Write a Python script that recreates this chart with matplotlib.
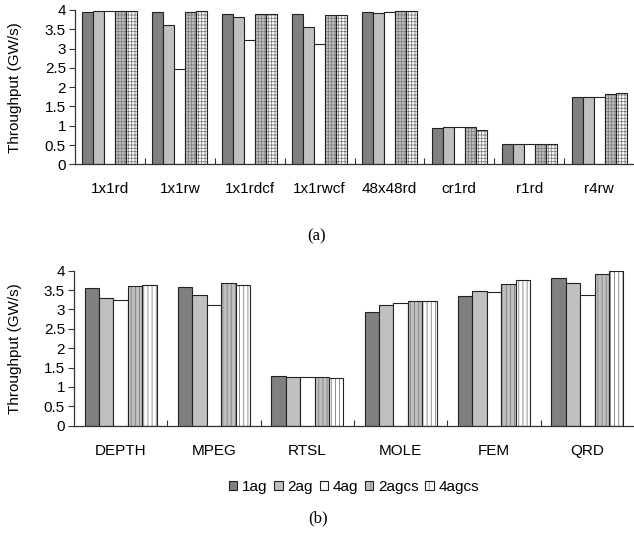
import matplotlib
matplotlib.use("Agg")
import matplotlib.pyplot as plt
import numpy as np
from matplotlib.patches import Patch

plt.rcParams['font.family'] = ['Liberation Sans', 'DejaVu Sans']
plt.rcParams['hatch.linewidth'] = 0.6

series = ['1ag', '2ag', '4ag', '2agcs', '4agcs']

cats_a = ['1x1rd', '1x1rw', '1x1rdcf', '1x1rwcf', '48x48rd', 'cr1rd', 'r1rd', 'r4rw']
vals_a = {
    '1ag':   [3.94, 3.94, 3.89, 3.89, 3.94, 0.93, 0.52, 1.75],
    '2ag':   [3.97, 3.61, 3.83, 3.55, 3.91, 0.96, 0.52, 1.75],
    '4ag':   [3.97, 2.47, 3.23, 3.11, 3.96, 0.96, 0.52, 1.74],
    '2agcs': [3.98, 3.94, 3.89, 3.87, 3.97, 0.96, 0.52, 1.81],
    '4agcs': [3.98, 3.97, 3.89, 3.87, 3.97, 0.89, 0.52, 1.86],
}

cats_b = ['DEPTH', 'MPEG', 'RTSL', 'MOLE', 'FEM', 'QRD']
vals_b = {
    '1ag':   [3.56, 3.59, 1.28, 2.93, 3.36, 3.82],
    '2ag':   [3.30, 3.37, 1.26, 3.11, 3.47, 3.69],
    '4ag':   [3.25, 3.11, 1.26, 3.16, 3.45, 3.37],
    '2agcs': [3.61, 3.69, 1.25, 3.21, 3.66, 3.91],
    '4agcs': [3.63, 3.63, 1.22, 3.21, 3.76, 4.00],
}

faces = {'1ag': '#808080', '2ag': '#c0c0c0', '4ag': '#ffffff',
         '2agcs': '#c0c0c0', '4agcs': '#ffffff'}
hatch_a = {'2agcs': '+++++', '4agcs': '+++++'}
hatch_b = {'2agcs': '||||', '4agcs': '||||'}
hatch_col = '#808080'
FS = 11

fig = plt.figure(figsize=(6.34, 5.36), dpi=100)
ax_a = fig.add_axes([75/634, 1-164.3/536, 559/634, 154.3/536])
ax_b = fig.add_axes([74/634, 1-425.7/536, 560/634, 155/536])


def draw(ax, cats, vals, hatches, group_frac, left_px):
    n = len(series)
    x = np.arange(len(cats))
    w = group_frac / n
    for i, s in enumerate(series):
        pos = x - group_frac/2 + w*(i+0.5)
        h = hatches.get(s)
        if h:
            ax.bar(pos, vals[s], width=w, color=faces[s], hatch=h,
                   edgecolor=hatch_col, linewidth=0)
            ax.bar(pos, vals[s], width=w, fill=False, edgecolor='#222222',
                   linewidth=0.8)
        else:
            ax.bar(pos, vals[s], width=w, color=faces[s],
                   edgecolor='#222222', linewidth=0.8)
    ax.set_xlim(-0.5, len(cats)-0.5)
    ax.set_ylim(0, 4)
    ax.set_yticks(np.arange(0, 4.01, 0.5))
    ax.set_yticklabels(['0', '0.5', '1', '1.5', '2', '2.5', '3', '3.5', '4'])
    ax.set_xticks(x)
    ax.set_xticklabels(cats)
    ax.set_xticks(np.arange(0.5, len(cats)-0.5, 1), minor=True)
    ax.tick_params(axis='x', which='major', length=0, pad=13, labelsize=FS)
    ax.tick_params(axis='x', which='minor', direction='in', length=4,
                   width=0.8, color='#333333')
    ax.tick_params(axis='y', length=4, width=0.8, pad=2.5, labelsize=FS,
                   color='#333333')
    for sp in ['top', 'right']:
        ax.spines[sp].set_visible(False)
    for sp in ['left', 'bottom']:
        ax.spines[sp].set_color('#333333')
        ax.spines[sp].set_linewidth(0.9)
    ax.set_ylabel('Throughput (GW/s)', fontsize=FS)
    ax.yaxis.set_label_coords(-(left_px - 22) / (634 - left_px), 0.5)


draw(ax_a, cats_a, vals_a, hatch_a, 0.786, 75)
draw(ax_b, cats_b, vals_b, hatch_b, 0.77, 74)

# legend
handles = []
for s in series:
    h = hatch_b.get(s)
    if h:
        handles.append((Patch(facecolor=faces[s], hatch='||', edgecolor=hatch_col, linewidth=0),
                        Patch(fill=False, edgecolor='#222222', linewidth=0.8)))
    else:
        handles.append(Patch(facecolor=faces[s], edgecolor='#222222', linewidth=0.8))
fig.legend(handles, series, loc='center', bbox_to_anchor=(354/634, 1-487/536),
           ncol=5, frameon=False, fontsize=FS, handlelength=0.55,
           handleheight=0.55, handletextpad=0.3, columnspacing=0.45)

fig.text(317/634, 1-236/536, '(a)', ha='center', va='center',
         family=['Liberation Serif', 'DejaVu Serif'], fontsize=12)
fig.text(318/634, 1-518/536, '(b)', ha='center', va='center',
         family=['Liberation Serif', 'DejaVu Serif'], fontsize=12)

fig.savefig('out.png', dpi=100)
